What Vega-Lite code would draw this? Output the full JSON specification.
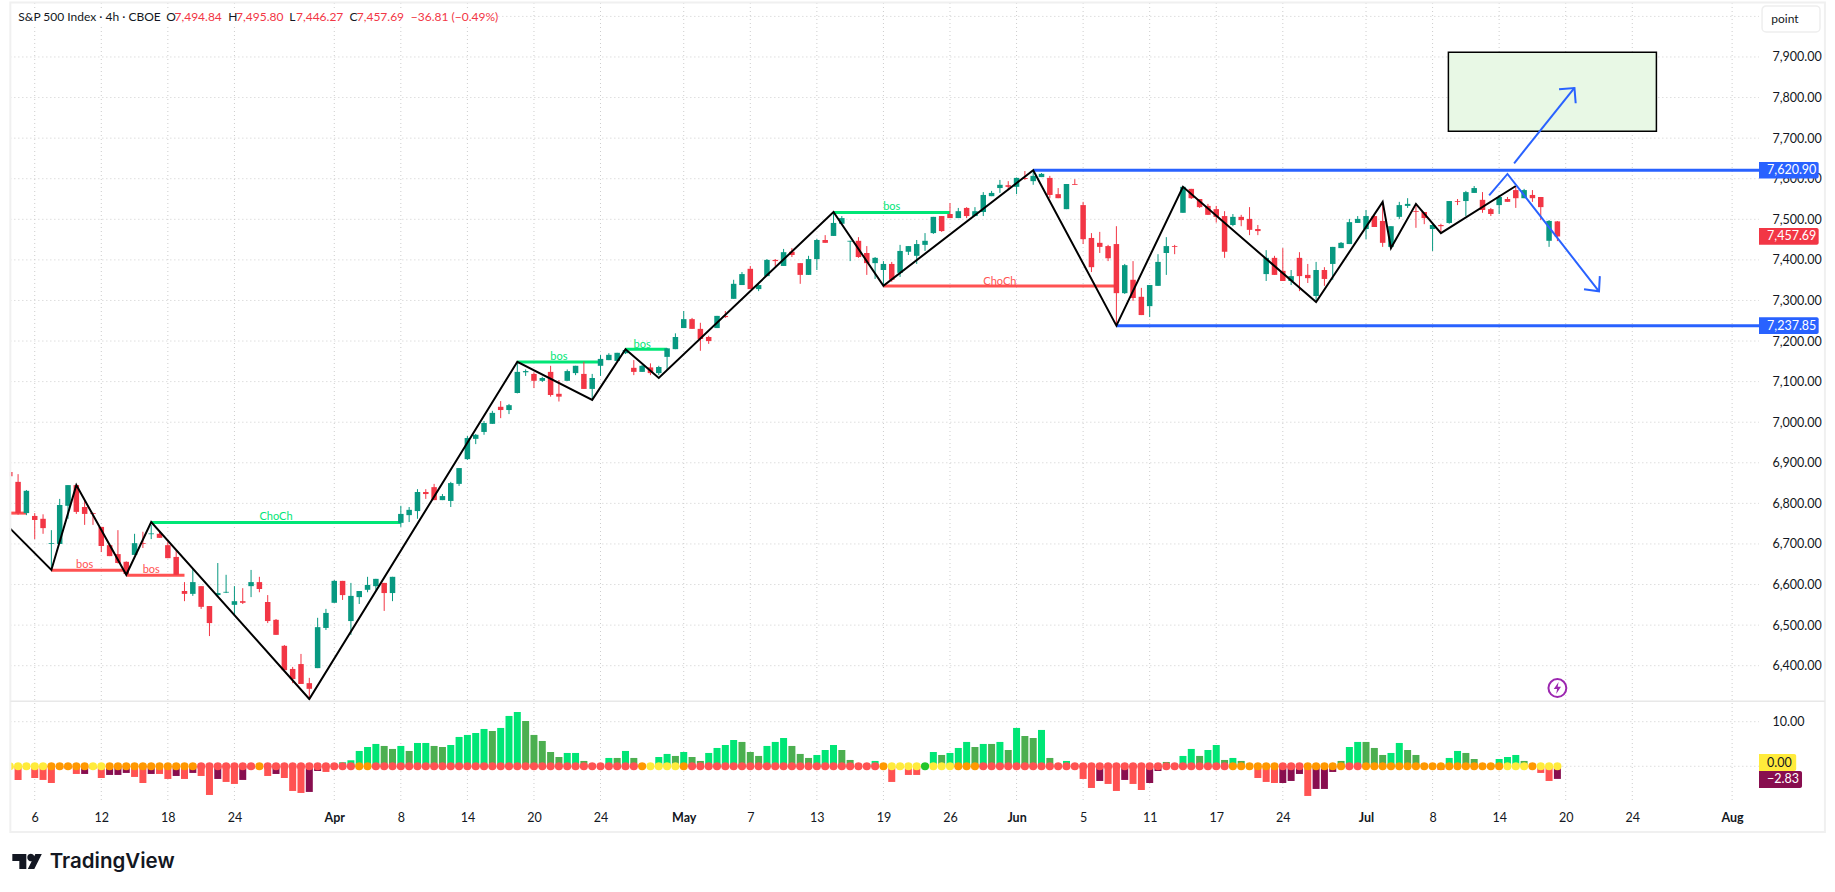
{
"$schema":"https://vega.github.io/schema/vega-lite/v6.json",
"background":"white",
"padding":0,
"autosize":{"type":"none"},
"width":1835,
"height":892,
"config":{"view":{"stroke":null},"font":"Lato","text":{"font":"Lato"}},
"resolve":{"scale":{"y":"independent"},"axis":{"y":"independent"}},
"datasets":{
"candles":[
{"b":-3,"open":6877,"high":6877,"low":6867,"close":6867},
{"b":-2,"open":6853,"high":6872,"low":6772,"close":6776},
{"b":-1,"open":6776,"high":6833,"low":6771,"close":6831},
{"b":0,"open":6769,"high":6776,"low":6712,"close":6759},
{"b":1,"open":6762,"high":6773,"low":6725,"close":6739},
{"b":2,"open":6700,"high":6734,"low":6636,"close":6702},
{"b":3,"open":6700,"high":6811,"low":6700,"close":6796},
{"b":4,"open":6794,"high":6845,"low":6762,"close":6845},
{"b":5,"open":6845,"high":6845,"low":6774,"close":6779},
{"b":6,"open":6791,"high":6808,"low":6747,"close":6774},
{"b":7,"open":6776,"high":6777,"low":6747,"close":6774},
{"b":8,"open":6742,"high":6742,"low":6680,"close":6695},
{"b":9,"open":6697,"high":6697,"low":6670,"close":6670},
{"b":10,"open":6675,"high":6734,"low":6652,"close":6653},
{"b":11,"open":6656,"high":6657,"low":6624,"close":6626},
{"b":12,"open":6673,"high":6725,"low":6673,"close":6702},
{"b":13,"open":6702,"high":6730,"low":6690,"close":6700},
{"b":14,"open":6724,"high":6747,"low":6712,"close":6726},
{"b":15,"open":6725,"high":6732,"low":6715,"close":6715},
{"b":16,"open":6697,"high":6705,"low":6665,"close":6665},
{"b":17,"open":6668,"high":6683,"low":6624,"close":6624},
{"b":18,"open":6584,"high":6606,"low":6559,"close":6577},
{"b":19,"open":6577,"high":6638,"low":6572,"close":6606},
{"b":20,"open":6596,"high":6596,"low":6540,"close":6545},
{"b":21,"open":6547,"high":6547,"low":6473,"close":6505},
{"b":22,"open":6574,"high":6653,"low":6569,"close":6579},
{"b":23,"open":6580,"high":6624,"low":6579,"close":6582},
{"b":24,"open":6550,"high":6596,"low":6525,"close":6559},
{"b":25,"open":6559,"high":6591,"low":6552,"close":6555},
{"b":26,"open":6596,"high":6636,"low":6569,"close":6606},
{"b":27,"open":6606,"high":6619,"low":6581,"close":6589},
{"b":28,"open":6557,"high":6574,"low":6505,"close":6510},
{"b":29,"open":6513,"high":6515,"low":6476,"close":6476},
{"b":30,"open":6449,"high":6451,"low":6389,"close":6389},
{"b":31,"open":6392,"high":6397,"low":6357,"close":6367},
{"b":32,"open":6404,"high":6429,"low":6355,"close":6355},
{"b":33,"open":6357,"high":6370,"low":6318,"close":6343},
{"b":34,"open":6394,"high":6518,"low":6394,"close":6495},
{"b":35,"open":6493,"high":6540,"low":6488,"close":6530},
{"b":36,"open":6555,"high":6611,"low":6555,"close":6609},
{"b":37,"open":6609,"high":6609,"low":6562,"close":6574},
{"b":38,"open":6510,"high":6604,"low":6476,"close":6572},
{"b":39,"open":6569,"high":6584,"low":6552,"close":6584},
{"b":40,"open":6587,"high":6619,"low":6581,"close":6599},
{"b":41,"open":6596,"high":6614,"low":6587,"close":6614},
{"b":42,"open":6604,"high":6604,"low":6535,"close":6579},
{"b":43,"open":6579,"high":6619,"low":6559,"close":6619},
{"b":44,"open":6752,"high":6794,"low":6742,"close":6774},
{"b":45,"open":6771,"high":6791,"low":6754,"close":6784},
{"b":46,"open":6781,"high":6835,"low":6762,"close":6828},
{"b":47,"open":6828,"high":6835,"low":6811,"close":6823},
{"b":48,"open":6840,"high":6848,"low":6808,"close":6808},
{"b":49,"open":6808,"high":6823,"low":6808,"close":6818},
{"b":50,"open":6806,"high":6853,"low":6791,"close":6850},
{"b":51,"open":6848,"high":6887,"low":6843,"close":6887},
{"b":52,"open":6909,"high":6966,"low":6907,"close":6961},
{"b":53,"open":6959,"high":6971,"low":6946,"close":6969},
{"b":54,"open":6976,"high":7003,"low":6969,"close":6998},
{"b":55,"open":6996,"high":7028,"low":6996,"close":7023},
{"b":56,"open":7038,"high":7052,"low":7010,"close":7030},
{"b":57,"open":7030,"high":7045,"low":7020,"close":7042},
{"b":58,"open":7072,"high":7149,"low":7071,"close":7124},
{"b":59,"open":7123,"high":7130,"low":7114,"close":7126},
{"b":60,"open":7119,"high":7123,"low":7084,"close":7102},
{"b":61,"open":7102,"high":7112,"low":7099,"close":7109},
{"b":62,"open":7124,"high":7139,"low":7063,"close":7067},
{"b":63,"open":7070,"high":7104,"low":7051,"close":7063},
{"b":64,"open":7102,"high":7130,"low":7102,"close":7126},
{"b":65,"open":7121,"high":7139,"low":7116,"close":7139},
{"b":66,"open":7119,"high":7149,"low":7082,"close":7082},
{"b":67,"open":7082,"high":7119,"low":7055,"close":7109},
{"b":68,"open":7139,"high":7166,"low":7114,"close":7156},
{"b":69,"open":7153,"high":7170,"low":7153,"close":7166},
{"b":70,"open":7151,"high":7171,"low":7151,"close":7171},
{"b":71,"open":7170,"high":7182,"low":7168,"close":7178},
{"b":72,"open":7134,"high":7153,"low":7116,"close":7124},
{"b":73,"open":7124,"high":7141,"low":7124,"close":7139},
{"b":74,"open":7135,"high":7145,"low":7116,"close":7121},
{"b":75,"open":7121,"high":7139,"low":7116,"close":7136},
{"b":76,"open":7161,"high":7183,"low":7129,"close":7182},
{"b":77,"open":7180,"high":7219,"low":7180,"close":7210},
{"b":78,"open":7232,"high":7274,"low":7232,"close":7254},
{"b":79,"open":7254,"high":7257,"low":7230,"close":7230},
{"b":80,"open":7230,"high":7245,"low":7176,"close":7205},
{"b":81,"open":7210,"high":7213,"low":7193,"close":7200},
{"b":82,"open":7232,"high":7262,"low":7232,"close":7262},
{"b":83,"open":7262,"high":7274,"low":7257,"close":7259},
{"b":84,"open":7304,"high":7351,"low":7304,"close":7341},
{"b":85,"open":7338,"high":7370,"low":7338,"close":7365},
{"b":86,"open":7378,"high":7385,"low":7328,"close":7328},
{"b":87,"open":7328,"high":7341,"low":7323,"close":7338},
{"b":88,"open":7360,"high":7402,"low":7360,"close":7400},
{"b":89,"open":7400,"high":7402,"low":7385,"close":7397},
{"b":90,"open":7385,"high":7427,"low":7385,"close":7419},
{"b":91,"open":7420,"high":7429,"low":7407,"close":7412},
{"b":92,"open":7392,"high":7392,"low":7341,"close":7363},
{"b":93,"open":7363,"high":7410,"low":7363,"close":7402},
{"b":94,"open":7402,"high":7452,"low":7375,"close":7449},
{"b":95,"open":7449,"high":7461,"low":7442,"close":7442},
{"b":96,"open":7459,"high":7515,"low":7459,"close":7491},
{"b":97,"open":7489,"high":7508,"low":7489,"close":7503},
{"b":98,"open":7445,"high":7447,"low":7397,"close":7447},
{"b":99,"open":7447,"high":7456,"low":7405,"close":7407},
{"b":100,"open":7417,"high":7434,"low":7363,"close":7392},
{"b":101,"open":7392,"high":7407,"low":7353,"close":7405},
{"b":102,"open":7375,"high":7397,"low":7338,"close":7390},
{"b":103,"open":7390,"high":7395,"low":7346,"close":7351},
{"b":104,"open":7368,"high":7437,"low":7358,"close":7422},
{"b":105,"open":7420,"high":7434,"low":7412,"close":7434},
{"b":106,"open":7410,"high":7449,"low":7390,"close":7439},
{"b":107,"open":7437,"high":7466,"low":7422,"close":7447},
{"b":108,"open":7466,"high":7506,"low":7464,"close":7506},
{"b":109,"open":7508,"high":7508,"low":7469,"close":7471},
{"b":110,"open":7513,"high":7540,"low":7503,"close":7503},
{"b":111,"open":7503,"high":7528,"low":7503,"close":7520},
{"b":112,"open":7528,"high":7530,"low":7503,"close":7508},
{"b":113,"open":7508,"high":7530,"low":7508,"close":7520},
{"b":114,"open":7518,"high":7567,"low":7508,"close":7560},
{"b":115,"open":7557,"high":7570,"low":7557,"close":7565},
{"b":116,"open":7577,"high":7597,"low":7565,"close":7585},
{"b":117,"open":7584,"high":7594,"low":7572,"close":7580},
{"b":118,"open":7580,"high":7603,"low":7562,"close":7602},
{"b":119,"open":7602,"high":7619,"low":7597,"close":7599},
{"b":120,"open":7594,"high":7621,"low":7585,"close":7607},
{"b":121,"open":7604,"high":7614,"low":7604,"close":7612},
{"b":122,"open":7602,"high":7607,"low":7552,"close":7560},
{"b":123,"open":7562,"high":7577,"low":7552,"close":7552},
{"b":124,"open":7525,"high":7587,"low":7525,"close":7587},
{"b":125,"open":7587,"high":7599,"low":7585,"close":7585},
{"b":126,"open":7535,"high":7543,"low":7439,"close":7451},
{"b":127,"open":7454,"high":7466,"low":7370,"close":7382},
{"b":128,"open":7442,"high":7469,"low":7417,"close":7432},
{"b":129,"open":7434,"high":7437,"low":7397,"close":7404},
{"b":130,"open":7439,"high":7483,"low":7240,"close":7318},
{"b":131,"open":7318,"high":7390,"low":7316,"close":7387},
{"b":132,"open":7351,"high":7397,"low":7299,"close":7306},
{"b":133,"open":7309,"high":7331,"low":7264,"close":7264},
{"b":134,"open":7286,"high":7338,"low":7259,"close":7338},
{"b":135,"open":7336,"high":7414,"low":7336,"close":7395},
{"b":136,"open":7417,"high":7456,"low":7363,"close":7434},
{"b":137,"open":7434,"high":7437,"low":7414,"close":7432},
{"b":138,"open":7516,"high":7580,"low":7516,"close":7580},
{"b":139,"open":7575,"high":7575,"low":7550,"close":7552},
{"b":140,"open":7550,"high":7550,"low":7528,"close":7530},
{"b":141,"open":7533,"high":7538,"low":7511,"close":7511},
{"b":142,"open":7525,"high":7533,"low":7492,"close":7506},
{"b":143,"open":7508,"high":7520,"low":7405,"close":7420},
{"b":144,"open":7486,"high":7513,"low":7483,"close":7506},
{"b":145,"open":7506,"high":7511,"low":7483,"close":7498},
{"b":146,"open":7501,"high":7530,"low":7461,"close":7474},
{"b":147,"open":7476,"high":7486,"low":7461,"close":7471},
{"b":148,"open":7365,"high":7424,"low":7348,"close":7405},
{"b":149,"open":7405,"high":7410,"low":7363,"close":7363},
{"b":150,"open":7373,"high":7429,"low":7348,"close":7348},
{"b":151,"open":7348,"high":7375,"low":7338,"close":7360},
{"b":152,"open":7405,"high":7419,"low":7323,"close":7360},
{"b":153,"open":7363,"high":7390,"low":7343,"close":7355},
{"b":154,"open":7311,"high":7395,"low":7301,"close":7375},
{"b":155,"open":7375,"high":7382,"low":7336,"close":7353},
{"b":156,"open":7390,"high":7432,"low":7351,"close":7432},
{"b":157,"open":7429,"high":7444,"low":7429,"close":7442},
{"b":158,"open":7439,"high":7501,"low":7439,"close":7493},
{"b":159,"open":7491,"high":7508,"low":7491,"close":7501},
{"b":160,"open":7476,"high":7523,"low":7451,"close":7508},
{"b":161,"open":7508,"high":7511,"low":7481,"close":7481},
{"b":162,"open":7496,"high":7543,"low":7432,"close":7442},
{"b":163,"open":7432,"high":7483,"low":7429,"close":7483},
{"b":164,"open":7506,"high":7543,"low":7501,"close":7535},
{"b":165,"open":7533,"high":7552,"low":7528,"close":7538},
{"b":166,"open":7520,"high":7538,"low":7479,"close":7518},
{"b":167,"open":7518,"high":7518,"low":7488,"close":7503},
{"b":168,"open":7476,"high":7489,"low":7422,"close":7486},
{"b":169,"open":7486,"high":7489,"low":7466,"close":7483},
{"b":170,"open":7491,"high":7545,"low":7489,"close":7545},
{"b":171,"open":7545,"high":7550,"low":7535,"close":7543},
{"b":172,"open":7545,"high":7570,"low":7508,"close":7567},
{"b":173,"open":7565,"high":7582,"low":7565,"close":7577},
{"b":174,"open":7548,"high":7567,"low":7516,"close":7523},
{"b":175,"open":7525,"high":7528,"low":7508,"close":7513},
{"b":176,"open":7535,"high":7560,"low":7513,"close":7555},
{"b":177,"open":7550,"high":7555,"low":7543,"close":7543},
{"b":178,"open":7572,"high":7582,"low":7528,"close":7552},
{"b":179,"open":7552,"high":7575,"low":7552,"close":7572},
{"b":180,"open":7560,"high":7572,"low":7543,"close":7552},
{"b":181,"open":7555,"high":7555,"low":7498,"close":7530},
{"b":182,"open":7447,"high":7498,"low":7432,"close":7496},
{"b":183,"open":7494.84,"high":7495.8,"low":7446.27,"close":7457.69}
],
"zigzag":[
{"b":-3,"p":6739},{"b":2,"p":6636},{"b":5,"p":6845},{"b":11,"p":6624},{"b":14,"p":6754},{"b":33,"p":6318},{"b":58,"p":7149},{"b":67,"p":7055},{"b":71,"p":7180},{"b":75,"p":7109},{"b":96,"p":7518},{"b":102,"p":7336},{"b":120,"p":7621},{"b":130,"p":7238},{"b":138,"p":7580},{"b":154,"p":7296},{"b":162,"p":7543},{"b":163,"p":7429},{"b":166,"p":7538},{"b":169,"p":7466},{"b":178,"p":7582}
],
"levels":[
{"b":-3,"b2":-1,"p":6776,"kind":"bear"},
{"b":2,"b2":11,"p":6635,"kind":"bear"},
{"b":11,"b2":18,"p":6623,"kind":"bear"},
{"b":14,"b2":44,"p":6753,"kind":"bull"},
{"b":58,"b2":68,"p":7148.5,"kind":"bull"},
{"b":71,"b2":76,"p":7179.6,"kind":"bull"},
{"b":96,"b2":110,"p":7517,"kind":"bull"},
{"b":102,"b2":130,"p":7335.7,"kind":"bear"},
{"b":120,"b2":207.23,"p":7620.9,"kind":"range"},
{"b":130,"b2":207.23,"p":7237.85,"kind":"range"}
],
"tags":[
{"b":6,"p":6648,"t":"bos","kind":"bear"},
{"b":14,"p":6637,"t":"bos","kind":"bear"},
{"b":29,"p":6767,"t":"ChoCh","kind":"bull"},
{"b":63,"p":7161.6,"t":"bos","kind":"bull"},
{"b":73,"p":7190,"t":"bos","kind":"bull"},
{"b":103,"p":7530,"t":"bos","kind":"bull"},
{"b":116,"p":7345.5,"t":"ChoCh","kind":"bear"}
],
"arrows":[
{"id":"a","k":1,"b":174.8,"p":7559},{"id":"a","k":2,"b":177,"p":7611.7},{"id":"a","k":3,"b":188,"p":7322.5},
{"id":"b","k":1,"b":188.1,"p":7360},{"id":"b","k":2,"b":188,"p":7322.5},{"id":"b","k":3,"b":186.2,"p":7327.5},
{"id":"c","k":1,"b":177.8,"p":7638},{"id":"c","k":2,"b":185.05,"p":7823.6},
{"id":"d","k":1,"b":183.2,"p":7820.4},{"id":"d","k":2,"b":185.05,"p":7823.6},{"id":"d","k":3,"b":185.2,"p":7786}
],
"legend":[
{"b":-1.97,"p":7998.6,"t":"S&P 500 Index · 4h · CBOE","kind":"ink"},
{"b":15.8,"p":7998.6,"t":"O","kind":"ink"},
{"b":16.8,"p":7998.6,"t":"7,494.84","kind":"bear"},
{"b":23.25,"p":7998.6,"t":"H","kind":"ink"},
{"b":24.2,"p":7998.6,"t":"7,495.80","kind":"bear"},
{"b":30.6,"p":7998.6,"t":"L","kind":"ink"},
{"b":31.4,"p":7998.6,"t":"7,446.27","kind":"bear"},
{"b":37.84,"p":7998.6,"t":"C","kind":"ink"},
{"b":38.7,"p":7998.6,"t":"7,457.69","kind":"bear"},
{"b":45.2,"p":7998.6,"t":"−36.81 (−0.49%)","kind":"bear"},
{"b":208.7,"p":7993.6,"t":"point","kind":"ink"}
],
"pricetags":[
{"b":207.23,"b2":214.4,"p":7641.5,"p2":7600.3,"kind":"range"},
{"b":207.23,"b2":214.4,"p":7258.45,"p2":7217.25,"kind":"range"},
{"b":207.23,"b2":214.4,"p":7478.3,"p2":7437.1,"kind":"last"}
],
"pricelabels":[
{"b":208.2,"p":7620.9,"t":"7,620.90"},
{"b":208.2,"p":7237.85,"t":"7,237.85"},
{"b":208.2,"p":7457.69,"t":"7,457.69"}
],
"timegrid":[
{"b":0,"p":8033,"p2":6061.6},{"b":8,"p":8033,"p2":6061.6},{"b":16,"p":8033,"p2":6061.6},{"b":24,"p":8033,"p2":6061.6},{"b":36,"p":8033,"p2":6061.6},{"b":44,"p":8033,"p2":6061.6},{"b":52,"p":8033,"p2":6061.6},{"b":60,"p":8033,"p2":6061.6},{"b":68,"p":8033,"p2":6061.6},{"b":78,"p":8033,"p2":6061.6},{"b":86,"p":8033,"p2":6061.6},{"b":94,"p":8033,"p2":6061.6},{"b":102,"p":8033,"p2":6061.6},{"b":110,"p":8033,"p2":6061.6},{"b":118,"p":8033,"p2":6061.6},{"b":126,"p":8033,"p2":6061.6},{"b":134,"p":8033,"p2":6061.6},{"b":142,"p":8033,"p2":6061.6},{"b":150,"p":8033,"p2":6061.6},{"b":160,"p":8033,"p2":6061.6},{"b":168,"p":8033,"p2":6061.6},{"b":176,"p":8033,"p2":6061.6},{"b":184,"p":8033,"p2":6061.6},{"b":192,"p":8033,"p2":6061.6},{"b":204,"p":8033,"p2":6061.6}
],
"pricegrid":[
{"b":-2.93,"b2":207.23,"p":6400},{"b":-2.93,"b2":207.23,"p":6500},{"b":-2.93,"b2":207.23,"p":6600},{"b":-2.93,"b2":207.23,"p":6700},{"b":-2.93,"b2":207.23,"p":6800},{"b":-2.93,"b2":207.23,"p":6900},{"b":-2.93,"b2":207.23,"p":7000},{"b":-2.93,"b2":207.23,"p":7100},{"b":-2.93,"b2":207.23,"p":7200},{"b":-2.93,"b2":207.23,"p":7300},{"b":-2.93,"b2":207.23,"p":7400},{"b":-2.93,"b2":207.23,"p":7500},{"b":-2.93,"b2":207.23,"p":7600},{"b":-2.93,"b2":207.23,"p":7700},{"b":-2.93,"b2":207.23,"p":7800},{"b":-2.93,"b2":207.23,"p":7900},{"b":-2.93,"b2":207.23,"p":8000}
],
"mom":[
{"b":-3,"v":-0.5,"bar":"red","dot":"yellow"},{"b":-2,"v":-3.06,"bar":"red","dot":"yellow"},{"b":-1,"v":-0.5,"bar":"maroon","dot":"yellow"},{"b":0,"v":-2.62,"bar":"red","dot":"yellow"},{"b":1,"v":-3.06,"bar":"red","dot":"yellow"},{"b":2,"v":-3.74,"bar":"red","dot":"orange"},{"b":3,"v":-0.5,"bar":"maroon","dot":"orange"},{"b":4,"v":-0.5,"bar":"maroon","dot":"orange"},{"b":5,"v":-1.72,"bar":"red","dot":"orange"},{"b":6,"v":-1.72,"bar":"maroon","dot":"orange"},{"b":7,"v":-0.5,"bar":"maroon","dot":"yellow"},{"b":8,"v":-2.62,"bar":"red","dot":"yellow"},{"b":9,"v":-1.94,"bar":"maroon","dot":"orange"},{"b":10,"v":-1.94,"bar":"maroon","dot":"orange"},{"b":11,"v":-1.49,"bar":"maroon","dot":"orange"},{"b":12,"v":-2.39,"bar":"red","dot":"orange"},{"b":13,"v":-3.74,"bar":"red","dot":"orange"},{"b":14,"v":-1.72,"bar":"maroon","dot":"orange"},{"b":15,"v":-1.72,"bar":"red","dot":"orange"},{"b":16,"v":-2.84,"bar":"red","dot":"orange"},{"b":17,"v":-2.17,"bar":"maroon","dot":"orange"},{"b":18,"v":-2.84,"bar":"red","dot":"orange"},{"b":19,"v":-1.49,"bar":"maroon","dot":"orange"},{"b":20,"v":-2.17,"bar":"red","dot":"red"},{"b":21,"v":-6.43,"bar":"red","dot":"red"},{"b":22,"v":-2.84,"bar":"maroon","dot":"red"},{"b":23,"v":-3.51,"bar":"red","dot":"red"},{"b":24,"v":-3.96,"bar":"red","dot":"red"},{"b":25,"v":-3.06,"bar":"maroon","dot":"red"},{"b":26,"v":-0.5,"bar":"maroon","dot":"red"},{"b":27,"v":-0.5,"bar":"maroon","dot":"orange"},{"b":28,"v":-2.17,"bar":"red","dot":"red"},{"b":29,"v":-1.72,"bar":"maroon","dot":"red"},{"b":30,"v":-2.62,"bar":"red","dot":"red"},{"b":31,"v":-5.53,"bar":"red","dot":"red"},{"b":32,"v":-5.98,"bar":"red","dot":"red"},{"b":33,"v":-5.75,"bar":"maroon","dot":"red"},{"b":34,"v":-1.05,"bar":"maroon","dot":"red"},{"b":35,"v":-1.27,"bar":"red","dot":"red"},{"b":36,"v":0.4,"bar":"lime","dot":"red"},{"b":37,"v":0.9,"bar":"lime","dot":"red"},{"b":38,"v":1.35,"bar":"lime","dot":"red"},{"b":39,"v":3.44,"bar":"lime","dot":"orange"},{"b":40,"v":4.33,"bar":"lime","dot":"orange"},{"b":41,"v":5.01,"bar":"lime","dot":"red"},{"b":42,"v":4.56,"bar":"green","dot":"red"},{"b":43,"v":3.89,"bar":"green","dot":"red"},{"b":44,"v":4.56,"bar":"lime","dot":"red"},{"b":45,"v":3.44,"bar":"green","dot":"red"},{"b":46,"v":5.23,"bar":"lime","dot":"red"},{"b":47,"v":5.23,"bar":"lime","dot":"red"},{"b":48,"v":4.56,"bar":"green","dot":"red"},{"b":49,"v":4.33,"bar":"green","dot":"red"},{"b":50,"v":4.78,"bar":"lime","dot":"red"},{"b":51,"v":6.58,"bar":"lime","dot":"red"},{"b":52,"v":7.03,"bar":"lime","dot":"red"},{"b":53,"v":7.47,"bar":"lime","dot":"red"},{"b":54,"v":8.37,"bar":"lime","dot":"red"},{"b":55,"v":7.92,"bar":"green","dot":"red"},{"b":56,"v":8.6,"bar":"lime","dot":"red"},{"b":57,"v":11.29,"bar":"lime","dot":"red"},{"b":58,"v":12.18,"bar":"lime","dot":"red"},{"b":59,"v":10.16,"bar":"green","dot":"red"},{"b":60,"v":7.03,"bar":"green","dot":"red"},{"b":61,"v":5.68,"bar":"green","dot":"red"},{"b":62,"v":3.21,"bar":"green","dot":"red"},{"b":63,"v":2.09,"bar":"green","dot":"red"},{"b":64,"v":2.99,"bar":"lime","dot":"red"},{"b":65,"v":2.99,"bar":"lime","dot":"red"},{"b":66,"v":1.2,"bar":"green","dot":"red"},{"b":67,"v":0.4,"bar":"green","dot":"red"},{"b":68,"v":0.4,"bar":"green","dot":"red"},{"b":69,"v":1.87,"bar":"lime","dot":"red"},{"b":70,"v":1.87,"bar":"green","dot":"red"},{"b":71,"v":3.44,"bar":"lime","dot":"red"},{"b":72,"v":1.87,"bar":"green","dot":"red"},{"b":73,"v":0.4,"bar":"green","dot":"orange"},{"b":74,"v":0.4,"bar":"lime","dot":"yellow"},{"b":75,"v":2.09,"bar":"lime","dot":"yellow"},{"b":76,"v":2.77,"bar":"lime","dot":"yellow"},{"b":77,"v":2.32,"bar":"green","dot":"yellow"},{"b":78,"v":3.21,"bar":"lime","dot":"orange"},{"b":79,"v":2.09,"bar":"green","dot":"red"},{"b":80,"v":1.2,"bar":"green","dot":"red"},{"b":81,"v":2.99,"bar":"lime","dot":"red"},{"b":82,"v":4.11,"bar":"lime","dot":"red"},{"b":83,"v":4.78,"bar":"lime","dot":"red"},{"b":84,"v":5.9,"bar":"lime","dot":"red"},{"b":85,"v":5.46,"bar":"green","dot":"red"},{"b":86,"v":3.21,"bar":"green","dot":"red"},{"b":87,"v":2.32,"bar":"green","dot":"red"},{"b":88,"v":4.56,"bar":"lime","dot":"red"},{"b":89,"v":5.46,"bar":"lime","dot":"red"},{"b":90,"v":6.35,"bar":"lime","dot":"red"},{"b":91,"v":4.56,"bar":"green","dot":"red"},{"b":92,"v":2.77,"bar":"green","dot":"red"},{"b":93,"v":1.87,"bar":"green","dot":"red"},{"b":94,"v":2.54,"bar":"lime","dot":"red"},{"b":95,"v":3.66,"bar":"lime","dot":"red"},{"b":96,"v":4.78,"bar":"lime","dot":"red"},{"b":97,"v":3.66,"bar":"green","dot":"red"},{"b":98,"v":1.42,"bar":"green","dot":"red"},{"b":99,"v":0.4,"bar":"green","dot":"red"},{"b":100,"v":0.4,"bar":"green","dot":"red"},{"b":101,"v":1.2,"bar":"lime","dot":"red"},{"b":102,"v":-0.4,"bar":"red","dot":"orange"},{"b":103,"v":-3.51,"bar":"red","dot":"yellow"},{"b":104,"v":-0.4,"bar":"maroon","dot":"yellow"},{"b":105,"v":-1.94,"bar":"red","dot":"yellow"},{"b":106,"v":-1.94,"bar":"red","dot":"yellow"},{"b":107,"v":0.4,"bar":"lime","dot":"go"},{"b":108,"v":3.21,"bar":"lime","dot":"yellow"},{"b":109,"v":2.54,"bar":"green","dot":"yellow"},{"b":110,"v":2.99,"bar":"lime","dot":"yellow"},{"b":111,"v":4.11,"bar":"lime","dot":"orange"},{"b":112,"v":5.46,"bar":"lime","dot":"orange"},{"b":113,"v":4.33,"bar":"green","dot":"orange"},{"b":114,"v":5.01,"bar":"lime","dot":"red"},{"b":115,"v":5.01,"bar":"green","dot":"red"},{"b":116,"v":5.46,"bar":"lime","dot":"red"},{"b":117,"v":3.66,"bar":"green","dot":"red"},{"b":118,"v":8.6,"bar":"lime","dot":"red"},{"b":119,"v":6.8,"bar":"green","dot":"red"},{"b":120,"v":6.35,"bar":"green","dot":"red"},{"b":121,"v":8.15,"bar":"lime","dot":"red"},{"b":122,"v":1.87,"bar":"green","dot":"red"},{"b":123,"v":0.4,"bar":"green","dot":"red"},{"b":124,"v":1.2,"bar":"lime","dot":"red"},{"b":125,"v":0.4,"bar":"green","dot":"red"},{"b":126,"v":-2.84,"bar":"red","dot":"red"},{"b":127,"v":-4.86,"bar":"red","dot":"red"},{"b":128,"v":-3.29,"bar":"maroon","dot":"red"},{"b":129,"v":-3.96,"bar":"red","dot":"red"},{"b":130,"v":-5.53,"bar":"red","dot":"red"},{"b":131,"v":-3.06,"bar":"maroon","dot":"red"},{"b":132,"v":-3.96,"bar":"red","dot":"red"},{"b":133,"v":-5.31,"bar":"red","dot":"red"},{"b":134,"v":-3.74,"bar":"maroon","dot":"red"},{"b":135,"v":-1.05,"bar":"maroon","dot":"red"},{"b":136,"v":0.97,"bar":"green","dot":"red"},{"b":137,"v":0.4,"bar":"green","dot":"red"},{"b":138,"v":2.32,"bar":"lime","dot":"red"},{"b":139,"v":3.89,"bar":"lime","dot":"red"},{"b":140,"v":2.32,"bar":"green","dot":"red"},{"b":141,"v":3.66,"bar":"lime","dot":"red"},{"b":142,"v":4.78,"bar":"lime","dot":"red"},{"b":143,"v":1.42,"bar":"green","dot":"red"},{"b":144,"v":1.87,"bar":"lime","dot":"orange"},{"b":145,"v":1.2,"bar":"green","dot":"orange"},{"b":146,"v":0.4,"bar":"green","dot":"orange"},{"b":147,"v":-2.62,"bar":"red","dot":"orange"},{"b":148,"v":-3.51,"bar":"red","dot":"orange"},{"b":149,"v":-3.74,"bar":"red","dot":"orange"},{"b":150,"v":-3.74,"bar":"maroon","dot":"red"},{"b":151,"v":-3.29,"bar":"maroon","dot":"red"},{"b":152,"v":-1.72,"bar":"maroon","dot":"red"},{"b":153,"v":-6.65,"bar":"red","dot":"orange"},{"b":154,"v":-5.08,"bar":"maroon","dot":"orange"},{"b":155,"v":-5.08,"bar":"maroon","dot":"orange"},{"b":156,"v":-1.27,"bar":"maroon","dot":"orange"},{"b":157,"v":1.2,"bar":"green","dot":"orange"},{"b":158,"v":4.33,"bar":"lime","dot":"red"},{"b":159,"v":5.46,"bar":"lime","dot":"red"},{"b":160,"v":5.46,"bar":"green","dot":"orange"},{"b":161,"v":4.11,"bar":"green","dot":"orange"},{"b":162,"v":2.54,"bar":"green","dot":"orange"},{"b":163,"v":2.99,"bar":"lime","dot":"orange"},{"b":164,"v":5.23,"bar":"lime","dot":"orange"},{"b":165,"v":3.66,"bar":"green","dot":"orange"},{"b":166,"v":2.54,"bar":"green","dot":"orange"},{"b":167,"v":0.4,"bar":"green","dot":"orange"},{"b":168,"v":0.4,"bar":"green","dot":"orange"},{"b":169,"v":-0.8,"bar":"red","dot":"orange"},{"b":170,"v":1.87,"bar":"lime","dot":"orange"},{"b":171,"v":3.44,"bar":"lime","dot":"orange"},{"b":172,"v":2.99,"bar":"green","dot":"orange"},{"b":173,"v":1.64,"bar":"green","dot":"orange"},{"b":174,"v":0.4,"bar":"green","dot":"orange"},{"b":175,"v":0.4,"bar":"lime","dot":"orange"},{"b":176,"v":1.64,"bar":"lime","dot":"orange"},{"b":177,"v":2.09,"bar":"lime","dot":"yellow"},{"b":178,"v":2.54,"bar":"lime","dot":"yellow"},{"b":179,"v":1.2,"bar":"green","dot":"yellow"},{"b":180,"v":0.4,"bar":"green","dot":"orange"},{"b":181,"v":-1.49,"bar":"red","dot":"yellow"},{"b":182,"v":-3.29,"bar":"red","dot":"yellow"},{"b":183,"v":-2.83,"bar":"maroon","dot":"yellow"}
]
},
"encoding":{
 "x":{"field":"b","type":"quantitative","title":null,"scale":{"domain":[-2.93,207.23],"range":[5.35,1764],"nice":false,"zero":false},
  "axis":{"orient":"bottom","offset":-89,"values":[0,8,16,24,36,44,52,60,68,78,86,94,102,110,118,126,134,142,150,160,168,176,184,192,204],
   "labelExpr":"{'0':'6','8':'12','16':'18','24':'24','36':'Apr','44':'8','52':'14','60':'20','68':'24','78':'May','86':'7','94':'13','102':'19','110':'26','118':'Jun','126':'5','134':'11','142':'17','150':'24','160':'Jul','168':'8','176':'14','184':'20','192':'24','204':'Aug'}[datum.value]",
   "labelFont":"Lato","labelFontSize":12.5,"labelColor":"#131722","labelPadding":8,"labelOverlap":false,"labelFlush":false,"labelBound":false,
   "labelFontWeight":{"condition":{"test":"indexof([36,78,118,160,204],datum.value)>=0","value":700},"value":400},
   "ticks":false,"domain":false,"grid":false}}
},
"layer":[
{
"encoding":{
 "y":{"field":"p","type":"quantitative","title":null,"scale":{"domain":[6313,8033],"range":[701,3],"nice":false,"zero":false},
  "axis":{"orient":"right","offset":-71,"values":[6400,6500,6600,6700,6800,6900,7000,7100,7200,7300,7400,7500,7600,7700,7800,7900],"format":",.2f","labelFont":"Lato","labelFontSize":12.5,"labelColor":"#131722","labelPadding":8,"labelBound":false,"labelFlush":false,"ticks":false,"domain":false,"grid":false}}
},
"layer":[
 {"data":{"name":"timegrid"},"mark":{"type":"rule","stroke":"#CDCDCD","strokeWidth":1,"strokeDash":[1,3]},"encoding":{"y2":{"field":"p2"}}},
 {"data":{"name":"pricegrid"},"mark":{"type":"rule","stroke":"#CDCDCD","strokeWidth":1,"strokeDash":[1,3]},"encoding":{"x2":{"field":"b2"}}},
 {"data":{"values":[{"b":-2.9,"p":8020.7,"b2":55.6,"p2":7976.4}]},"mark":{"type":"rect","fill":"white"},"encoding":{"x2":{"field":"b2"},"y2":{"field":"p2"}}},
 {"data":{"values":[{"b":169.9,"b2":194.9,"p":7911.6,"p2":7717}]},"mark":{"type":"rect","fill":"#E8F8E5","stroke":"#000000","strokeWidth":1.5},"encoding":{"x2":{"field":"b2"},"y2":{"field":"p2"}}},
 {"data":{"name":"levels"},"mark":{"type":"rule","strokeWidth":3},"encoding":{"x2":{"field":"b2"},"color":{"condition":[{"test":"datum.kind==='bull'","value":"#00E676"},{"test":"datum.kind==='bear'","value":"#FF5252"}],"value":"#2962FF"}}},
 {"data":{"name":"candles"},"mark":{"type":"rule","strokeWidth":1},"encoding":{"y":{"field":"low","type":"quantitative","title":null,"scale":{"domain":[6313,8033],"range":[701,3],"nice":false,"zero":false},"axis":{"orient":"right","offset":-71,"values":[6400,6500,6600,6700,6800,6900,7000,7100,7200,7300,7400,7500,7600,7700,7800,7900],"format":",.2f","labelFont":"Lato","labelFontSize":12.5,"labelColor":"#131722","labelPadding":8,"labelBound":false,"labelFlush":false,"ticks":false,"domain":false,"grid":false}},"y2":{"field":"high"},"color":{"condition":{"test":"datum.close>=datum.open","value":"#089981"},"value":"#F23645"}}},
 {"data":{"name":"candles"},"mark":{"type":"bar","orient":"vertical","size":5.5},"encoding":{"y":{"field":"open","type":"quantitative","title":null,"stack":null,"scale":{"domain":[6313,8033],"range":[701,3],"nice":false,"zero":false},"axis":{"orient":"right","offset":-71,"values":[6400,6500,6600,6700,6800,6900,7000,7100,7200,7300,7400,7500,7600,7700,7800,7900],"format":",.2f","labelFont":"Lato","labelFontSize":12.5,"labelColor":"#131722","labelPadding":8,"labelBound":false,"labelFlush":false,"ticks":false,"domain":false,"grid":false}},"y2":{"field":"close"},"color":{"condition":{"test":"datum.close>=datum.open","value":"#089981"},"value":"#F23645"}}},
 {"data":{"name":"zigzag"},"mark":{"type":"line","color":"#000000","strokeWidth":2}},
 {"data":{"name":"arrows"},"mark":{"type":"line","color":"#2962FF","strokeWidth":2},"encoding":{"detail":{"field":"id"},"order":{"field":"k"}}},
 {"data":{"name":"tags"},"mark":{"type":"text","fontSize":11,"align":"center","baseline":"middle"},"encoding":{"text":{"field":"t"},"color":{"condition":{"test":"datum.kind==='bull'","value":"#00E676"},"value":"#FF5252"}}},
 {"data":{"name":"pricetags"},"mark":{"type":"rect","cornerRadiusTopRight":2,"cornerRadiusBottomRight":2},"encoding":{"x2":{"field":"b2"},"y2":{"field":"p2"},"color":{"condition":{"test":"datum.kind==='range'","value":"#2962FF"},"value":"#F23645"}}},
 {"data":{"name":"pricelabels"},"mark":{"type":"text","color":"white","fontSize":12.5,"align":"left","baseline":"middle"},"encoding":{"text":{"field":"t"}}},
 {"data":{"values":[{"b":207.6,"b2":214.56,"p":8025.7,"p2":7961.6}]},"mark":{"type":"rect","fill":"white","stroke":"#EEEEEE","strokeWidth":1.5,"cornerRadius":4},"encoding":{"x2":{"field":"b2"},"y2":{"field":"p2"}}},
 {"data":{"name":"legend"},"mark":{"type":"text","fontSize":12,"align":"left","baseline":"middle"},"encoding":{"text":{"field":"t"},"color":{"condition":{"test":"datum.kind==='bear'","value":"#F23645"},"value":"#131722"}}},
 {"data":{"values":[{"b":183,"p":6345}]},"mark":{"type":"point","shape":"circle","filled":false,"size":320,"stroke":"#9C27B0","strokeWidth":2,"opacity":1}},
 {"data":{"values":[{"b":183,"p":6345}]},"mark":{"type":"point","shape":"M0.2,-1 L-0.6,0.15 L-0.05,0.15 L-0.2,1 L0.6,-0.2 L0.05,-0.2 Z","filled":true,"size":144,"fill":"#9C27B0","opacity":1}},
 {"data":{"values":[{"b":-0.92,"p":5917.6}]},"mark":{"type":"point","shape":"M-1,-0.5 L-0.05,-0.5 L-0.05,0.517 L-0.525,0.517 L-0.525,-0.025 L-1,-0.025 Z M0.49,-0.263 A0.237,0.237 0 1 1 0.017,-0.263 A0.237,0.237 0 1 1 0.49,-0.263 Z M0.56,-0.5 L1,-0.5 L0.49,0.517 L0.05,0.517 Z","filled":true,"size":870,"fill":"#131722","opacity":1}},
 {"data":{"values":[{"b":1.8,"p":5916,"t":"TradingView"}]},"mark":{"type":"text","font":"Inter","fontWeight":600,"fontSize":20.5,"color":"#131722","align":"left","baseline":"middle"},"encoding":{"text":{"field":"t"}}}
]
},
{
"encoding":{
 "y":{"field":"v","type":"quantitative","title":null,"stack":null,"scale":{"domain":[-8.23,14.64],"range":[803,701],"nice":false,"zero":false},
  "axis":{"orient":"right","offset":-71,"values":[10],"format":".2f","labelFont":"Lato","labelFontSize":12.5,"labelColor":"#131722","labelPadding":8,"ticks":false,"domain":false,"grid":false}}
},
"layer":[
 {"data":{"values":[{"b":-2.93,"b2":207.23,"v":10},{"b":-2.93,"b2":207.23,"v":0}]},"mark":{"type":"rule","stroke":"#CDCDCD","strokeWidth":1,"strokeDash":[1,3]},"encoding":{"x2":{"field":"b2"}}},
 {"data":{"name":"mom"},"mark":{"type":"bar","orient":"vertical","size":7},"encoding":{"y2":{"datum":0},"color":{"field":"bar","type":"nominal","legend":null,"scale":{"domain":["lime","green","red","maroon","yellow","orange","go"],"range":["#00E676","#4CAF50","#FF5252","#880E4F","#FFEB3B","#FF9800","#22C52B"]}}}},
 {"data":{"name":"mom"},"mark":{"type":"point","shape":"circle","filled":true,"size":66,"opacity":1},"encoding":{"y":{"datum":0,"type":"quantitative","title":null,"scale":{"domain":[-8.23,14.64],"range":[803,701],"nice":false,"zero":false},"axis":{"orient":"right","offset":-71,"values":[10],"format":".2f","labelFont":"Lato","labelFontSize":12.5,"labelColor":"#131722","labelPadding":8,"ticks":false,"domain":false,"grid":false}},"color":{"field":"dot","type":"nominal","legend":null,"scale":{"domain":["lime","green","red","maroon","yellow","orange","go"],"range":["#00E676","#4CAF50","#FF5252","#880E4F","#FFEB3B","#FF9800","#22C52B"]}}}},
 {"data":{"values":[{"b":207.23,"b2":211.7,"v":2.76,"v2":-1.05,"t":"0.00","kind":"zero"},{"b":207.23,"b2":212.4,"v":-1.05,"v2":-4.87,"t":"−2.83","kind":"last"}]},"mark":{"type":"rect","cornerRadiusTopRight":2,"cornerRadiusBottomRight":2},"encoding":{"x2":{"field":"b2"},"y2":{"field":"v2"},"color":{"condition":{"test":"datum.kind==='zero'","value":"#FFEB3B"},"value":"#880E4F"}}},
 {"data":{"values":[{"b":208.2,"v":0.85,"t":"0.00","kind":"zero"},{"b":208.2,"v":-2.96,"t":"−2.83","kind":"last"}]},"mark":{"type":"text","fontSize":12.5,"align":"left","baseline":"middle"},"encoding":{"text":{"field":"t"},"color":{"condition":{"test":"datum.kind==='zero'","value":"#131722"},"value":"#FFFFFF"}}},
 {"data":{"values":[{"b":-4.2,"b2":-2.98,"v":171.8,"v2":-28.2}]},"mark":{"type":"rect","fill":"white"},"encoding":{"x2":{"field":"b2"},"y2":{"field":"v2"}}},
 {"data":{"values":[{"b":-2.93,"b2":215.15,"v":171.26,"v2":-14.73}]},"mark":{"type":"rect","fill":"transparent","stroke":"#F0F0F0","strokeWidth":2},"encoding":{"x2":{"field":"b2"},"y2":{"field":"v2"}}},
 {"data":{"values":[{"b":-2.93,"b2":215.15,"v":14.57}]},"mark":{"type":"rule","stroke":"#E8E8E8","strokeWidth":1.5},"encoding":{"x2":{"field":"b2"}}}
]
}
]
}
